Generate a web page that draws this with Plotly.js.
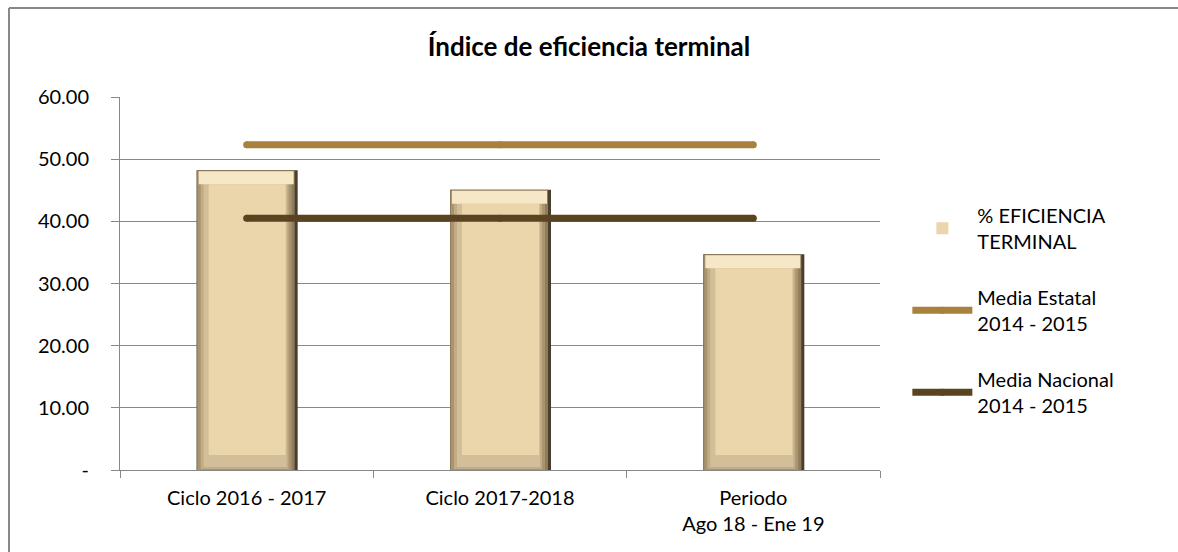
<!DOCTYPE html>
<html>
<head>
<meta charset="utf-8">
<script src="https://cdn.plot.ly/plotly-3.0.1.min.js"></script>
<style>
html,body{margin:0;padding:0;background:#fff;}
#chart{width:1178px;height:552px;}
</style>
</head>
<body>
<div id="chart"></div>
<script>
var categories = ['Ciclo 2016 - 2017', 'Ciclo 2017-2018', 'Periodo<br>Ago 18 - Ene 19'];
var eficiencia = [48.2, 45.1, 34.7];
var mediaEstatal = [52.3, 52.3, 52.3];
var mediaNacional = [40.5, 40.5, 40.5];
var yTickVals = [0, 10, 20, 30, 40, 50, 60];
var yTickText = ['-', '10.00', '20.00', '30.00', '40.00', '50.00', '60.00'];

var font = 'Lato, "Open Sans", sans-serif';

// bevelled bar built from overlaid layers (style only; heights come from `eficiencia`)
var PX = 1 / 253.33;      // category units per pixel
var UY = 60 / 373;        // value units per pixel
// l, r: horizontal extent in px from category centre
// topInset: px below bar top where the layer ends
// bottom: px above zero where the layer starts, or, if fromTop is set, px below bar top
function layer(l, r, topInset, bottom, color, fromTop, extra) {
  var t = {
    type: 'bar', x: categories,
    base: eficiencia.map(function (v) { return fromTop ? v - bottom * UY : bottom * UY; }),
    y: eficiencia.map(function (v) {
      var b = fromTop ? v - bottom * UY : bottom * UY;
      return (v - topInset * UY) - b;
    }),
    offset: l * PX, width: (r - l) * PX,
    marker: {color: color, line: {width: 0}},
    showlegend: false, hoverinfo: 'skip', legendgroup: 'a'
  };
  if (extra) for (var k in extra) t[k] = extra[k];
  return t;
}

var traces = [
  layer(-50, 51, 0, 0, '#4A3F2E'),
  layer(-50, 48, 0, 0, '#8E7C5C'),
  layer(-49, 45, 1, 0, '#A8946F'),
  layer(-46, 42, 2, 1, '#C1AC86'),
  layer(-43, 40, 2, 3, '#D2BF99'),
  layer(-48, 47, 1, 14, '#F6E8C6', true),
  layer(-38, 39, 14, 15, '#EBD5AA', false, {showlegend: true, name: '% EFICIENCIA<br>TERMINAL', hoverinfo: 'y'}),
  {
    type: 'scatter', mode: 'lines+markers', x: categories, y: mediaEstatal,
    name: 'Media Estatal<br>2014 - 2015',
    line: {color: '#A8813D', width: 7},
    marker: {color: '#A8813D', size: 7},
    legendgroup: 'b'
  },
  {
    type: 'scatter', mode: 'lines+markers', x: categories, y: mediaNacional,
    name: 'Media Nacional<br>2014 - 2015',
    line: {color: '#5A4320', width: 7},
    marker: {color: '#5A4320', size: 7},
    legendgroup: 'c'
  }
];

var layout = {
  width: 1178, height: 552,
  margin: {l: 120, r: 298, t: 97, b: 82},
  paper_bgcolor: '#fff', plot_bgcolor: '#fff',
  font: {family: font, size: 20, color: '#000'},
  barmode: 'overlay',
  title: {
    text: '<b>Índice de eficiencia terminal</b>',
    font: {family: font, size: 26, color: '#000'},
    x: 0.5, xref: 'container', y: 1 - 47/552, yref: 'container', yanchor: 'middle'
  },
  showlegend: true,
  legend: {
    x: 1.036, xanchor: 'left', y: 0.735, yanchor: 'top',
    traceorder: 'grouped', tracegroupgap: 27, itemwidth: 60,
    font: {family: font, size: 20, color: '#000'},
    bgcolor: 'rgba(0,0,0,0)'
  },
  xaxis: {
    type: 'category',
    showline: true, linecolor: '#888', linewidth: 1,
    ticks: 'outside', tickson: 'boundaries', ticklen: 7, tickcolor: '#888',
    ticklabelstandoff: 10,
    showgrid: false, zeroline: false,
    tickfont: {family: font, size: 20, color: '#000'}
  },
  yaxis: {
    range: [0, 60], tickvals: yTickVals, ticktext: yTickText,
    showline: true, linecolor: '#888', linewidth: 1,
    ticks: 'outside', ticklen: 8, tickcolor: '#888',
    ticklabelstandoff: 18,
    showgrid: true, gridcolor: '#888', gridwidth: 1,
    zeroline: false,
    tickfont: {family: font, size: 20, color: '#000'}
  },
  shapes: [
    {type: 'line', xref: 'paper', yref: 'paper', x0: (9-120)/760, x1: (1180-120)/760, y0: (470-8)/373, y1: (470-8)/373, line: {color: '#888', width: 2}},
    {type: 'line', xref: 'paper', yref: 'paper', x0: (9-120)/760, x1: (9-120)/760, y0: (470-8)/373, y1: (470-555)/373, line: {color: '#888', width: 2}}
  ]
};

Plotly.newPlot('chart', traces, layout, {displayModeBar: false, staticPlot: true});
</script>
</body>
</html>
